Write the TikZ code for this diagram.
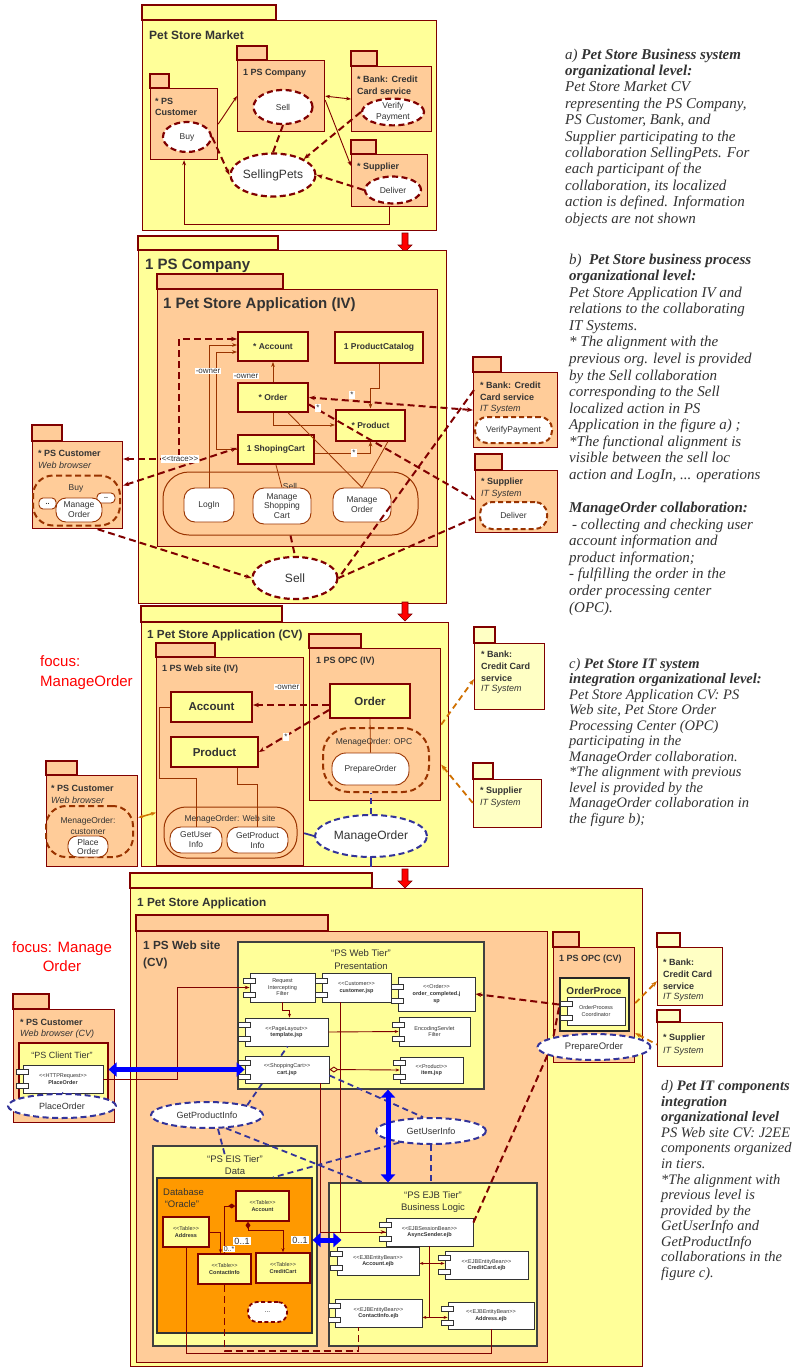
\documentclass[tikz,border=0pt]{standalone}
\usepackage{fontspec}
\setmainfont{Liberation Sans}
\newfontfamily\tms{Liberation Serif}
\usetikzlibrary{shapes.geometric,arrows.meta,calc}
\pgfdeclarelayer{bg}
\pgfsetlayers{bg,main}
\definecolor{dred}{HTML}{800000}
\definecolor{pyel}{HTML}{FFFF99}
\definecolor{peach}{HTML}{FFCC99}
\definecolor{lyel}{HTML}{FFFFC4}
\definecolor{brn}{HTML}{993300}
\definecolor{blu}{HTML}{333399}
\definecolor{bblu}{HTML}{0000FF}
\definecolor{org}{HTML}{FF9900}
\definecolor{oarr}{HTML}{D07000}
\definecolor{txt}{HTML}{333333}
\newcommand\fsz[2]{\fontsize{#1}{#2}\selectfont}
\newcommand\mkpkg[8]{%
  \draw[#8] (#2,#4) rectangle (#3,#5);
  \node[#8,anchor=north west,inner sep=0pt,minimum width={#6-#2},minimum height={#7-#5}] (#1) at (#2,#5) {};
}
\newcommand\mkcomp[6]{%
  \node[comp,minimum width={#4-#2},minimum height={#5-#3}] (#1) at ({(#2+#4)/2},{(#3+#5)/2}) {#6};
  \draw[cicon] ($(#1.west)+(-6,-9.5)$) rectangle ++(12,5);
  \draw[cicon] ($(#1.west)+(-6,4.5)$) rectangle ++(12,5);
}
\newcommand\redarr[2]{\filldraw[fill=red,draw=dred,line width=0.6pt] (#1-3,#2) -- (#1+3,#2) -- (#1+3,#2+12) -- (#1+7,#2+12) -- (#1,#2+19) -- (#1-7,#2+12) -- (#1-3,#2+12) -- cycle;}
\tikzset{
 pkgY/.style={draw=dred,line width=1.2pt,fill=pyel},
 pkgP/.style={draw=dred,line width=1.2pt,fill=peach},
 pkgL/.style={draw=dred,line width=1.2pt,fill=lyel},
 ptxt/.style={inner sep=0pt,align=left,text=txt,font=\bfseries\fsz{9}{11}},
 itxt/.style={inner sep=0pt,text=txt,font=\itshape\fsz{9}{10}},
 cls/.style={draw=dred,line width=2pt,fill=pyel,inner sep=0pt,text=txt,font=\bfseries\fsz{8.5}{10}},
 collab/.style={ellipse,draw=dred,line width=2.2pt,dash pattern=on 6pt off 3.5pt,fill=white,inner sep=0pt,align=center,text=txt,font=\fsz{8.5}{10}},
 bcollab/.style={ellipse,draw=blu,line width=2pt,dash pattern=on 6pt off 3.5pt,fill=white,inner sep=0pt,text=txt,font=\fsz{9.5}{11}},
 pill/.style={draw=brn,line width=0.9pt,fill=white,rounded corners=11pt,inner sep=0pt,align=center,text=txt,font=\fsz{8.5}{10}},
 dpill/.style={pill,line width=2pt,dash pattern=on 5pt off 3pt},
 crect/.style={draw=brn,line width=1pt,inner sep=0pt},
 dcrect/.style={draw=brn,line width=2pt,dash pattern=on 6pt off 3.5pt,inner sep=0pt},
 conn/.style={draw=dred,line width=0.9pt},
 bconn/.style={draw=brn,line width=0.8pt},
 dconn/.style={draw=dred,line width=2pt,dash pattern=on 7pt off 4pt},
 bdash/.style={draw=blu,line width=1.8pt,dash pattern=on 6pt off 4pt},
 odash/.style={draw=oarr,line width=1.8pt,dash pattern=on 6pt off 4pt},
 bthick/.style={draw=bblu,line width=5pt,{Triangle[length=8pt,width=14pt]}-{Triangle[length=8pt,width=14pt]}},
 lbl/.style={fill=white,inner sep=1pt,text=txt,font=\fsz{8}{9}},
 tier/.style={draw=black!75,line width=1.1pt,fill=pyel,inner sep=0pt},
 comp/.style={draw=black!80,line width=0.8pt,fill=white,inner sep=0pt,align=center,text=txt,font=\fsz{5.5}{6.6}},
 cicon/.style={draw=black!80,line width=0.7pt,fill=white},
 tbl/.style={draw=dred,line width=1.6pt,fill=pyel,inner sep=0pt,align=center,text=txt,font=\fsz{5.5}{7}},
 ttl/.style={inner sep=0pt,text=txt,align=center},
 rtxt/.style={anchor=north west,inner sep=0pt,align=left,text=txt,font=\tms\itshape\fsz{15}{16.4}},
}
\begin{document}
\begin{tikzpicture}[x=1pt,y=-1pt]
\begin{pgfonlayer}{bg}
\fill[white] (0,0) rectangle (802,1367);
\end{pgfonlayer}
\useasboundingbox (0,0) rectangle (802,1367);

% ================= Section 1 =================
\mkpkg{mkt}{142}{276}{5}{20}{436}{230}{pkgY}
\node[ptxt,anchor=west,font=\bfseries\fsz{12}{14}] (mktT) at (149,35) {Pet Store Market};
\mkpkg{cust1}{150}{169}{74}{88}{217}{159}{pkgP}
\node[ptxt,anchor=north west] (cust1T) at (155,98.5) {* PS\\Customer};
\node[collab,minimum width=48,minimum height=30] (buy1) at (187,137) {Buy};
\mkpkg{comp1}{237}{267}{46}{60}{324}{131}{pkgP}
\node[ptxt,anchor=west] (comp1T) at (243,73) {1 PS Company};
\node[collab,minimum width=59,minimum height=34] (sell1) at (283,107) {Sell};
\mkpkg{bank1}{351}{377}{51}{66}{431}{131}{pkgP}
\node[ptxt,anchor=north west,font=\bfseries\fsz{9}{12}] (bank1T) at (357,75.5) {* Bank: Credit\\Card service};
\node[collab,minimum width=62,minimum height=25,font=\fsz{8.5}{11}] (vp1) at (393,112) {Verify\\Payment};
\mkpkg{sup1}{351}{376}{140}{154}{427}{206}{pkgP}
\node[ptxt,anchor=west] (sup1T) at (357,167) {* Supplier};
\node[collab,minimum width=56,minimum height=27] (del1) at (393,190) {Deliver};
\node[collab,minimum width=85,minimum height=43,font=\fsz{12}{14}] (sp1) at (273,175) {SellingPets};

\draw[conn,-{Stealth[length=5pt]}] (cust1.east) -- (comp1.west);
\draw[conn,{Stealth[length=5pt]}-{Stealth[length=5pt]}] (comp1.east) -- (bank1.west);
\draw[conn,-{Stealth[length=5pt]}] ($(comp1.east)+(0,4)$) -- ($(sup1.north west)+(0,12)$);
\draw[conn,-{Stealth[length=5pt]}] (sup1.south) -- ++(0,17) -| (cust1.south);
\draw[dconn,-{Stealth[length=6pt]}] (buy1.east) -- (sp1.west);
\draw[dconn] (sell1.south) -- (sp1.north);
\draw[dconn,-{Stealth[length=6pt]}] (vp1.west) -- (sp1.north east);
\draw[dconn,-{Stealth[length=6pt]}] (del1.west) -- (sp1.east);
\redarr{405}{233}

% ================= Section 2 =================
\mkpkg{comp2}{138}{278}{236}{250}{446}{603}{pkgY}
\node[ptxt,anchor=west,font=\bfseries\fsz{15}{17}] (comp2T) at (145,266) {1 PS Company};
\mkpkg{app2}{157}{283}{274}{289}{437}{546}{pkgP}
\node[ptxt,anchor=west,font=\bfseries\fsz{15}{17}] (app2T) at (163,305) {1 Pet Store Application (IV)};
\node[cls,minimum width=70,minimum height=29] (acc2) at (273,346.5) {* Account};
\node[cls,minimum width=70,minimum height=29] (ord2) at (273,397.5) {* Order};
\node[cls,minimum width=76,minimum height=29] (cart2) at (276,449.5) {1 ShopingCart};
\node[cls,minimum width=88,minimum height=31] (pc2) at (379,347) {1 ProductCatalog};
\node[cls,minimum width=69,minimum height=31] (prod2) at (370.5,425) {* Product};
\node[crect,rounded corners=26pt,minimum width=255,minimum height=63] (sellc) at (290.5,503.5) {};
\node[ttl,font=\fsz{8.5}{10}] (sellcT) at (290,486) {Sell};
\node[pill,minimum width=50,minimum height=34] (login) at (209,505) {LogIn};
\node[pill,minimum width=58,minimum height=36,font=\fsz{8.5}{9.6}] (msc) at (282,506) {Manage\\Shopping\\Cart};
\node[pill,minimum width=58,minimum height=34] (mo2) at (362,505) {Manage\\Order};

\mkpkg{cust2}{32}{62}{425}{441}{122}{528}{pkgP}
\node[ptxt,anchor=west] (cust2T) at (38,453) {* PS Customer};
\node[itxt,anchor=west] (cust2I) at (38,465) {Web browser};
\node[dcrect,rounded corners=20pt,minimum width=87,minimum height=50] (buyc2) at (76.5,500.5) {};
\node[ttl,font=\fsz{8.5}{10}] (buyc2T) at (76,488) {Buy};
\node[pill,rounded corners=4pt,minimum width=17,minimum height=11,font=\bfseries\fsz{7}{8}] (dd1) at (47.5,503.5) {..};
\node[pill,rounded corners=4pt,minimum width=18,minimum height=10,font=\bfseries\fsz{7}{8}] (dd2) at (106,498) {..};
\node[pill,rounded corners=10pt,minimum width=46,minimum height=24] (mo2c) at (79,510) {Manage\\Order};

\mkpkg{bank2}{473}{501}{357}{372}{557}{447}{pkgP}
\node[ptxt,anchor=north west,font=\bfseries\fsz{9}{12}] (bank2T) at (480,381.5) {* Bank: Credit\\Card service};
\node[itxt,anchor=west] (bank2I) at (480,409) {IT System};
\node[dpill,rounded corners=12pt,minimum width=77,minimum height=26] (vp2) at (513.5,430) {VerifyPayment};
\mkpkg{sup2}{475}{502}{454}{470}{557}{532}{pkgP}
\node[ptxt,anchor=west] (sup2T) at (481,482) {* Supplier};
\node[itxt,anchor=west] (sup2I) at (481,494) {IT System};
\node[dpill,rounded corners=12pt,minimum width=67,minimum height=27] (del2) at (513.5,515.5) {Deliver};
\node[collab,minimum width=85,minimum height=42,font=\fsz{12}{14}] (sell2) at (295,578) {Sell};

\draw[bconn,-{Stealth[length=5pt]}] (login.north) |- ($(acc2.west)+(0,-1.5)$);
\draw[bconn,-{Stealth[length=5pt]}] (cart2.west) -- ++(-21,0) |- ($(acc2.west)+(0,5.5)$);
\draw[bconn,-{Stealth[length=5pt]}] (ord2.north) -- (acc2.south);
\draw[bconn,-{Stealth[length=5pt]}] (ord2.south) |- (prod2.west);
\draw[bconn,-{Stealth[length=5pt]}] ($(cart2.east)+(0,3.5)$) -| (prod2.south);
\draw[bconn,-{Stealth[length=5pt]}] (pc2.south) -- ++(0,24.5) -| (prod2.north);
\draw[bconn] (ord2) -- (mo2.north);
\draw[bconn] ($(prod2.south)+(17.5,0)$) -- (mo2.north);
\draw[bconn] (cart2.south) -- (msc.north);

\coordinate (trc) at (179,459);
\draw[dconn,{Stealth[length=6pt]}-{Stealth[length=6pt]}] ($(cust2.north east)+(0,18)$) -- (trc) |- ($(acc2.west)+(0,-7.5)$);
\draw[dconn,{Stealth[length=6pt]}-{Stealth[length=6pt]}] ($(cust2.east)+(0,0.5)$) -- ($(cart2.west)+(0,-1.5)$);
\draw[dconn] (sellc.south) -- (sell2.north);
\draw[dconn,-{Stealth[length=6pt]}] ($(cust2.south)+(20,0)$) -- (sell2.west);
\draw[dconn] ($(bank2.north west)+(1,18)$) -- (sell2.east);
\draw[dconn] ($(sup2.west)+(0,16)$) -- (sell2.east);
\draw[dconn,{Stealth[length=6pt]}-{Stealth[length=6pt]}] (bank2.west) -- (ord2.east);
\draw[dconn,-{Stealth[length=6pt]}] ($(ord2.east)+(0,7)$) -- ($(sup2.north west)+(0,30)$);

\node[lbl] (ow1) at (208,371) {-owner};
\node[lbl] (ow2) at (246,376) {-owner};
\node[lbl] (trl) at (180,459) {<{}<trace>{}>};
\node[lbl] (m1) at (352,395) {*};
\node[lbl] (m2) at (318,408) {*};
\node[lbl] (m3) at (354,453) {*};
\redarr{405}{602}

% ================= Section 3 =================
\mkpkg{app3}{141}{282}{606}{622}{448}{866}{pkgY}
\node[ptxt,anchor=west,font=\bfseries\fsz{11.7}{14}] (app3T) at (147,635) {1 Pet Store Application (CV)};
\mkpkg{web3}{156}{215}{643}{657}{303}{865}{pkgP}
\node[ptxt,anchor=west] (web3T) at (162,669) {1 PS Web site (IV)};
\node[cls,minimum width=81,minimum height=30,font=\bfseries\fsz{11.5}{13}] (acc3) at (211.5,707) {Account};
\node[cls,minimum width=87,minimum height=30,font=\bfseries\fsz{11.5}{13}] (prod3) at (214.5,752) {Product};
\node[crect,rounded corners=22pt,minimum width=133,minimum height=51] (mows) at (230.5,832.5) {};
\node[ttl,font=\fsz{8.5}{10}] (mowsT) at (230,819) {MenageOrder: Web site};
\node[pill,minimum width=52,minimum height=26] (gui3) at (196,840) {GetUser\\Info};
\node[pill,minimum width=61,minimum height=26] (gpi3) at (257.5,840) {GetProduct\\Info};
\draw[bconn] (acc3.west) -- ++(-11,0) -- ++(0,71) -| (gui3.north);
\draw[bconn] ($(prod3.south)+(22.5,0)$) -- ++(0,16) -| (gpi3.north);

\mkpkg{opc3}{309}{361}{634}{648}{440}{800}{pkgP}
\node[ptxt,anchor=west] (opc3T) at (316,661) {1 PS OPC (IV)};
\node[cls,minimum width=80,minimum height=34,font=\bfseries\fsz{11.5}{13}] (ord3) at (370,701) {Order};
\node[dcrect,rounded corners=26pt,minimum width=106,minimum height=64] (moopc) at (376,760) {};
\node[ttl,font=\fsz{8.5}{10}] (moopcT) at (374,742) {MenageOrder: OPC};
\node[pill,rounded corners=14pt,minimum width=77,minimum height=32] (prep3) at (370.5,769) {PrepareOrder};
\draw[bconn] (ord3.south) -- (prep3.north);
\node[bcollab,minimum width=112,minimum height=42,font=\fsz{12}{14}] (mo3) at (371,836) {ManageOrder};
\draw[bdash] (mo3.north) -- (mo3.north |- moopc.south);
\draw[draw=blu,line width=1.8pt] ($(web3.south east)+(0,-33)$) -- (mo3.west);
\draw[draw=blu,line width=1.8pt] (mo3.south) -- (mo3.south |- app3.south);
\draw[dconn,-{Stealth[length=6pt]}] ($(ord3.west)+(0,4)$) -- ($(acc3.east)+(0,-2)$);
\draw[dconn,-{Stealth[length=6pt]}] ($(ord3.west)+(0,9)$) -- (prod3.east);
\node[lbl] (ow3) at (287,687) {-owner};
\node[lbl] (m4) at (286,737) {*};

\mkpkg{bank3}{474}{495}{627}{643}{544}{709}{pkgL}
\node[ptxt,anchor=north west,font=\bfseries\fsz{9}{12.3}] (bank3T) at (481,650.5) {* Bank:\\Credit Card\\service};
\node[itxt,anchor=west] (bank3I) at (481,689) {IT System};
\mkpkg{sup3}{473}{493}{763}{779}{541}{827}{pkgL}
\node[ptxt,anchor=west] (sup3T) at (480,791) {* Supplier};
\node[itxt,anchor=west] (sup3I) at (480,803) {IT System};
\draw[odash,-{Stealth[length=6pt]}] (opc3.east) -- ($(bank3.south west)+(0,-31)$);
\draw[odash,{Stealth[length=6pt]}-] ($(opc3.east)+(0,40)$) -- ($(sup3.south west)+(0,-25)$);

\mkpkg{cust3}{46}{77}{761}{775}{137}{866}{pkgP}
\node[ptxt,anchor=west] (cust3T) at (51,788) {* PS Customer};
\node[itxt,anchor=west] (cust3I) at (51,800) {Web browser};
\node[dcrect,rounded corners=20pt,minimum width=87,minimum height=51] (moc3) at (89.5,831.5) {};
\node[ttl,font=\fsz{8.5}{11}] (moc3T) at (88,825.5) {MenageOrder:\\customer};
\node[pill,rounded corners=9pt,minimum width=40,minimum height=21,font=\fsz{8.5}{9}] (plo3) at (88,846.5) {Place\\Order};
\draw[draw=oarr,line width=1.5pt,{Stealth[length=5pt]}-{Stealth[length=5pt]}] ($(cust3.east)+(0,-3.5)$) -- ($(web3.west)+(0,51)$);
\node[anchor=north west,align=left,text=red,font=\fsz{15}{20},inner sep=0pt] (foc1) at (40,655) {focus:\\ManageOrder};
\redarr{405}{869}

% ================= Section 4 =================
\begin{pgfonlayer}{bg}
\mkpkg{app4}{130}{372}{873}{888}{642}{1366}{pkgY}
\mkpkg{web4}{136}{328}{915}{931}{547}{1362}{pkgP}
\node[tier,minimum width=246,minimum height=147] (webt) at (361,1015.5) {};
\node[tier,minimum width=164,minimum height=200] (eist) at (235,1246) {};
\node[draw=black!80,line width=1.2pt,fill=org,inner sep=0pt,minimum width=155,minimum height=155] (db) at (234.5,1255.5) {};
\node[tier,minimum width=208,minimum height=163] (ejbt) at (433,1264.5) {};
\mkpkg{opc4}{553}{579}{932}{947}{634}{1062}{pkgP}
\end{pgfonlayer}
\node[ptxt,anchor=west,font=\bfseries\fsz{11.8}{14}] (app4T) at (137,903) {1 Pet Store Application};
\node[ptxt,anchor=north west,font=\bfseries\fsz{11.8}{17}] (web4T) at (143,940.5) {1 PS Web site\\(CV)};
\node[ttl,font=\fsz{9.5}{13}] (webtT) at (361,959.5) {“PS Web Tier”\\Presentation};
\node[ttl,font=\fsz{9.5}{12}] (eistT) at (235,1165) {“PS EIS Tier”\\Data};
\node[ttl,align=left,anchor=north west,font=\fsz{9.5}{12.5}] (dbT) at (163,1188) {Database\\\,“Oracle”};
\node[ttl,font=\fsz{9.5}{12}] (ejbtT) at (433,1202) {“PS EJB Tier”\\Business Logic};

% collaborations (blue)
\node[bcollab,minimum width=112,minimum height=26,font=\fsz{9}{10}] (gpi4) at (207,1115) {GetProductInfo};
\node[bcollab,minimum width=110,minimum height=26,font=\fsz{9}{10}] (gui4) at (431,1131) {GetUserInfo};

% web tier components
\mkcomp{rif}{250}{973}{315}{1002}{Request\\Intercepting\\Filter}
\mkcomp{cjsp}{322}{973}{391}{1002}{<{}<Customer>{}>\\\textbf{customer.jsp}}
\mkcomp{ocjsp}{398}{977}{475}{1011}{<{}<Order>{}>\\\textbf{order\_completed.j}\\\textbf{sp}}
\mkcomp{tjsp}{245}{1018}{328}{1046}{<{}<PageLayout>{}>\\\textbf{template.jsp}}
\mkcomp{esf}{399}{1017}{470}{1046}{EncodingServlet\\Filter}
\draw[bdash] (gpi4.north east) -- ($(tjsp.south)+(1,0)$);
\mkcomp{cart4}{245}{1056}{329}{1083}{<{}<ShoppingCart>{}>\\\textbf{cart.jsp}}
\mkcomp{item4}{400}{1057}{463}{1083}{<{}<Product>{}>\\\textbf{item.jsp}}

% EJB components
\mkcomp{async}{386}{1218}{473}{1246}{<{}<EJBSessionBean>{}>\\\textbf{AsyncSender.ejb}}
\mkcomp{accejb}{337}{1247}{419}{1275}{<{}<EJBEntityBean>{}>\\\textbf{Account.ejb}}
\mkcomp{ccejb}{445}{1251}{528}{1279}{<{}<EJBEntityBean>{}>\\\textbf{CreditCard.ejb}}
\mkcomp{ciejb}{335}{1299}{422}{1327}{<{}<EJBEntityBean>{}>\\\textbf{ContactInfo.ejb}}
\mkcomp{adejb}{448}{1302}{534}{1329}{<{}<EJBEntityBean>{}>\\\textbf{Address.ejb}}

% tables
\node[tbl,minimum width=53,minimum height=30] (tacc) at (262.5,1206) {<{}<Table>{}>\\\textbf{Account}};
\node[tbl,minimum width=46,minimum height=30] (taddr) at (186,1232) {<{}<Table>{}>\\\textbf{Address}};
\node[tbl,minimum width=53,minimum height=30] (tci) at (224.5,1269) {<{}<Table>{}>\\\textbf{ContactInfo}};
\node[tbl,minimum width=54,minimum height=30] (tcc) at (283,1268) {<{}<Table>{}>\\\textbf{CreditCart}};
\node[draw=dred,line width=1.8pt,dash pattern=on 4pt off 2.5pt,fill=white,rounded corners=9pt,minimum width=39,minimum height=20,inner sep=0pt,text=txt,font=\fsz{7}{8}] (tdots) at (267.5,1312) {...};

% client side
\mkpkg{cust4}{13}{49}{994}{1009}{114}{1122}{pkgP}
\node[ptxt,anchor=west] (cust4T) at (20,1022) {* PS Customer};
\node[itxt,anchor=west] (cust4I) at (20,1034) {Web browser (CV)};
\node[draw=dred,line width=1.2pt,fill=pyel,inner sep=0pt,minimum width=89,minimum height=57] (clt) at (63.5,1071.5) {};
\node[ttl,font=\fsz{9}{10}] (cltT) at (62,1055) {“PS Client Tier”};
\mkcomp{po4}{23}{1065}{103}{1093}{<{}<HTTPRequest>{}>\\\textbf{PlaceOrder}}
\node[bcollab,minimum width=108,minimum height=24,font=\fsz{9}{10}] (poe4) at (62,1106) {PlaceOrder};
\draw[draw=blu,line width=1.8pt] (po4.south) -- (poe4.north);
\node[ttl,text=red,font=\fsz{15}{19}] (foc2) at (62,957) {focus: Manage\\Order};

% OPC CV
\node[ptxt,anchor=west] (opc4T) at (559,959) {1 PS OPC (CV)};
\node[draw=black!85,line width=2pt,fill=pyel,inner sep=0pt,minimum width=69,minimum height=53] (opb) at (594.5,1004.5) {};
\node[ttl,font=\bfseries\fsz{10}{11}] (opbT) at (594,991) {OrderProce};
\mkcomp{opcc}{567}{997}{625}{1025}{OrderProcess\\Coordinator}
\node[bcollab,minimum width=113,minimum height=26,font=\fsz{9.5}{11}] (prep4) at (594,1047) {PrepareOrder};
\mkpkg{bank4}{657}{680}{933}{947}{722}{1005}{pkgL}
\node[ptxt,anchor=north west,font=\bfseries\fsz{9}{12}] (bank4T) at (663,958.5) {* Bank:\\Credit Card\\service};
\node[itxt,anchor=west] (bank4I) at (663,997) {IT System};
\mkpkg{sup4}{657}{680}{1010}{1022}{722}{1066}{pkgL}
\node[ptxt,anchor=west] (sup4T) at (663,1038) {* Supplier};
\node[itxt,anchor=west] (sup4I) at (663,1051) {IT System};
\draw[odash,-{Stealth[length=6pt]}] ($(opc4.east)+(0,-2)$) -- ($(bank4.south west)+(0,-25)$);
\draw[odash,{Stealth[length=6pt]}-] ($(opc4.east)+(0,28)$) -- (sup4.west);

% connectors section 4
\draw[conn,-{Stealth[length=4pt]}] (rif.south) -- ++(0,8) -| ($(tjsp.north)+(3,0)$);
\draw[conn,-{Stealth[length=4pt]}] (tjsp.east) -- (esf.west);
\draw[conn,{Diamond[open,length=9pt,width=6pt]}-{Stealth[length=4pt]}] (cart4.east) -- (item4.west);
\draw[conn,-{Stealth[length=5pt]}] ($(cjsp.south)+(-16.5,0)$) |- (async.west);
\draw[conn] ($(cart4.south east)+(-9,0)$) |- (async.west);
\draw[conn,-{Stealth[length=5pt]}] (po4.east) -| ($(rif.west)+(-72,0)$) -- (rif.west);

\coordinate (j1) at ($(async.south)+(0,17)$);
\coordinate (j2) at ($(async.south)+(0,71)$);
\draw[conn] (async.south) -- (j2);
\draw[conn,-{Stealth[length=4pt]}] (j1) -- (j1 -| accejb.east);
\draw[conn,-{Stealth[length=4pt]}] (j1) -- (j1 -| ccejb.west);
\draw[conn,-{Stealth[length=4pt]}] (j2) -- (j2 -| ciejb.east);
\draw[conn,-{Stealth[length=4pt]}] (j2) -- (j2 -| adejb.west);

\draw[conn,{Diamond[length=7pt,width=5pt]}-{Stealth[length=4pt]}] (tacc.west) -| (tci.north);
\draw[conn,{Diamond[length=7pt,width=5pt]}-{Stealth[length=4pt]}] ($(tacc.south)+(-14.5,0)$) -- ++(0,9) -| (tcc.north);
\draw[conn,-{Stealth[length=4pt]}] (taddr.east) -| ($(tci.north)+(-4,0)$);
\draw[dconn,line width=1.6pt] (tci.south) -- ++(0,66) -| ($(ciejb.south)+(-20,0)$);
\draw[conn] (taddr.south) -- ++(0,106) -| (adejb.south);

\draw[bdash] ($(cart4.south east)+(0,-8)$) -- (gui4.120);
\draw[bdash] (gui4.200) -- ($(db.north)+(38.5,0)$);
\draw[bdash] (gui4.south) -- (gui4.south |- ejbt.north);
\draw[bdash] (gpi4.-35) -- ($(ejbt.north)+(-70,0)$);
\draw[bdash] ($(gpi4.south)+(11,0)$) -- ($(eist.north)+(-10,10)$);

\draw[dconn,-{Stealth[length=6pt]}] (opb.west) -- (ocjsp.east);
\draw[dconn] (prep4.190) -- ($(async.north east)+(0,5)$);
\draw[dconn] ($(opb.west)+(0,3)$) -- (prep4.north west);

\draw[bthick] ($(clt.east)+(0,-2)$) -- (cart4.west);
\draw[bthick] ($(webt.south)+(27,0)$) -- ($(ejbt.north)+(-45,0)$);
\draw[bthick] ($(db.east)+(0,-15.5)$) -- ($(ejbt.west)+(13,-24.5)$);

\node[lbl,font=\fsz{9}{10}] (z1) at (242,1241) {0..1};
\node[lbl,font=\fsz{9}{10}] (z2) at (300,1240) {0..1};
\node[lbl,font=\fsz{7}{8}] (z3) at (229,1249) {0..*};

% ================= Right texts =================
\node[rtxt] (ta) at (565,48.5) {a)~\textbf{Pet Store Business system}\\\textbf{organizational level:}\\Pet Store Market CV\\representing the PS Company,\\PS Customer, Bank, and\\Supplier participating to the\\collaboration SellingPets. For\\each participant of the\\collaboration, its localized\\action is defined. Information\\objects are not shown};
\node[rtxt,font=\tms\itshape\fsz{15}{16.57}] (tb) at (569,253.5) {b)~~\textbf{Pet Store business process}\\\textbf{organizational level:}\\Pet Store Application IV and\\relations to the collaborating\\IT Systems.\\{}* The alignment with the\\previous org. level is provided\\by the Sell collaboration\\corresponding to the Sell\\localized action in PS\\Application in the figure a) ;\\{}*The functional alignment is\\visible between the sell loc\\action and LogIn, ... operations\\[16.57pt]\textbf{ManageOrder collaboration:}\\\hspace{3pt}- collecting and checking user\\account information and\\product information;\\- fulfilling the order in the\\order processing center\\(OPC).};
\node[rtxt,font=\tms\itshape\fsz{14.5}{15.5}] (tc) at (569,658) {c)~\textbf{Pet Store IT system}\\\textbf{integration organizational level:}\\Pet Store Application CV: PS\\Web site, Pet Store Order\\Processing Center (OPC)\\participating in the\\ManageOrder collaboration.\\{}*The alignment with previous\\level is provided by the\\ManageOrder collaboration in\\the figure b);};
\node[rtxt,font=\tms\itshape\fsz{14.5}{15.55}] (td) at (661,1080.5) {d)~\textbf{Pet IT components}\\\textbf{integration}\\\textbf{organizational level}\\PS Web site CV: J2EE\\components organized\\in tiers.\\{}*The alignment with\\previous level is\\provided by the\\GetUserInfo and\\GetProductInfo\\collaborations in the\\figure c).};
\end{tikzpicture}
\end{document}
